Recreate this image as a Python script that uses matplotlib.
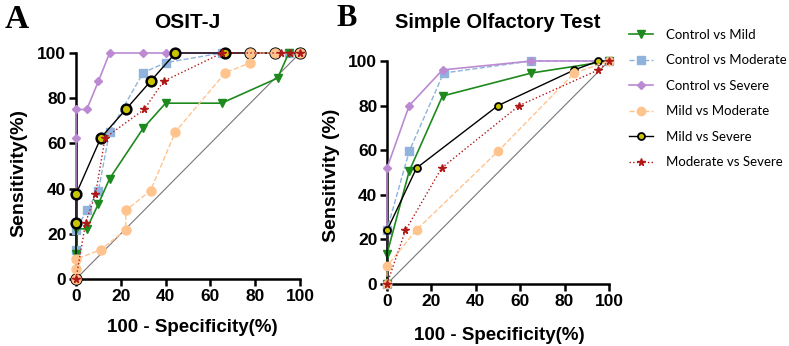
import matplotlib
matplotlib.use("Agg")
import matplotlib.pyplot as plt
from matplotlib.lines import Line2D

# ---- data: panel A (OSIT-J) ----
a_ctrl_mild_x = [0, 0, 0, 4.8, 10, 15, 30, 40, 65, 90, 95, 100]
a_ctrl_mild_y = [0, 11.1, 22.2, 22.2, 33.3, 44.4, 66.7, 77.8, 77.8, 88.9, 100, 100]
a_ctrl_mod_x = [0, 0, 0, 4.8, 10, 15, 30, 40, 65, 95, 100]
a_ctrl_mod_y = [0, 13.0, 21.7, 30.4, 39.1, 65.2, 91.3, 95.7, 100, 100, 100]
a_ctrl_sev_x = [0, 0, 0, 4.8, 10, 15, 30, 40, 100]
a_ctrl_sev_y = [0, 62.5, 75, 75, 87.5, 100, 100, 100, 100]
a_mild_mod_x = [0, 0, 0, 11.1, 22.2, 22.2, 33.3, 44.4, 66.7, 77.8, 77.8, 88.9, 100]
a_mild_mod_y = [0, 4.3, 8.7, 13.0, 21.7, 30.4, 39.1, 65.2, 91.3, 95.7, 100, 100, 100]
a_mild_sev_x = [0, 0, 0, 11.1, 22.2, 33.3, 44.4, 66.7, 77.8, 88.9, 100]
a_mild_sev_y = [0, 25, 37.5, 62.5, 75, 87.5, 100, 100, 100, 100, 100]
a_mod_sev_x = [0, 4.3, 8.7, 13.0, 30.4, 39.1, 65.2, 91.3, 95.7, 100]
a_mod_sev_y = [0, 25, 37.5, 62.5, 75, 87.5, 100, 100, 100, 100]

# ---- data: panel B (Simple Olfactory Test) ----
b_ctrl_mild_x = [0, 0, 10, 25, 65, 100]
b_ctrl_mild_y = [0, 13.5, 50.6, 84.3, 94.6, 100]
b_ctrl_mod_x = [0, 0, 10, 25.5, 65, 100]
b_ctrl_mod_y = [0, 24.3, 59.5, 94.6, 100, 100]
b_ctrl_sev_x = [0, 0, 10, 25, 65, 100]
b_ctrl_sev_y = [0, 52, 80, 96, 100, 100]
b_mild_mod_x = [0, 0, 13.3, 50, 84.4, 100]
b_mild_mod_y = [0, 8.1, 24.3, 59.5, 94.6, 100]
b_mild_sev_x = [0, 0, 13.3, 50, 84.4, 95.2, 100]
b_mild_sev_y = [0, 24, 52, 80, 96, 100, 100]
b_mod_sev_x = [0, 8.3, 24.6, 59.5, 95.2, 100]
b_mod_sev_y = [0, 24, 52, 80, 96, 100]

labels = ["Control vs Mild", "Control vs Moderate", "Control vs Severe",
          "Mild vs Moderate", "Mild vs Severe", "Moderate vs Severe"]
ticks = [0, 20, 40, 60, 80, 100]

GREEN = "#1e8a1e"
BLUE = "#8fb3dc"
PURPLE = "#bb8ad2"
ORANGE = "#ffc48e"
YELLOW = "#c9c400"
RED = "#b01818"

plt.rcParams["font.family"] = ["Liberation Sans", "DejaVu Sans"]
fig = plt.figure(figsize=(7.89, 3.46), dpi=100)
W, H = 789, 346


def px_axes(l, t, r, b):
    return fig.add_axes([l / W, 1 - b / H, (r - l) / W, (b - t) / H])


def style(ax):
    ax.set_xlim(0, 100)
    ax.set_ylim(0, 100)
    ax.set_xticks(ticks)
    ax.set_yticks(ticks)
    for s in ("top", "right"):
        ax.spines[s].set_visible(False)
    for s in ("left", "bottom"):
        ax.spines[s].set_linewidth(1.8)
    ax.tick_params(width=1.8, length=5, labelsize=12.5, pad=2)
    for t in ax.get_xticklabels() + ax.get_yticklabels():
        t.set_fontweight("bold")
    ax.plot([0, 100], [0, 100], color="#777777", lw=0.8, zorder=1, clip_on=False)


def series(ax, x, y, big):
    kw = dict(clip_on=False)
    ax.plot(x[0], y[0], "-", color=GREEN, lw=1.2, marker="v", ms=5.5, mfc=GREEN, mec=GREEN, zorder=4, **kw)
    ax.plot(x[1], y[1], "--", color=BLUE, lw=1.0, marker="s", ms=5.5, mfc=BLUE, mec=BLUE, zorder=3, **kw)
    ax.plot(x[2], y[2], "-", color=PURPLE, lw=1.2, marker="D", ms=4, mfc=PURPLE, mec=PURPLE, zorder=3, **kw)
    ax.plot(x[4], y[4], "-", color="black", lw=1.0, marker="o", ms=7 if big else 5,
            mfc=YELLOW, mec="black", mew=1.8 if big else 1.3, zorder=5, **kw)
    ax.plot(x[3], y[3], "--", color=ORANGE, lw=1.0, marker="o", ms=6.5 if big else 6, mfc=ORANGE,
            mec=ORANGE, zorder=6, **kw)
    ax.plot(x[5], y[5], ":", color=RED, lw=1.0, marker="*", ms=5.5, mfc=RED, mec=RED, zorder=6, **kw)


axA = px_axes(76, 53, 300, 279)
style(axA)
series(axA,
       [a_ctrl_mild_x, a_ctrl_mod_x, a_ctrl_sev_x, a_mild_mod_x, a_mild_sev_x, a_mod_sev_x],
       [a_ctrl_mild_y, a_ctrl_mod_y, a_ctrl_sev_y, a_mild_mod_y, a_mild_sev_y, a_mod_sev_y], True)

axB = px_axes(387, 61, 609, 284)
style(axB)
series(axB,
       [b_ctrl_mild_x, b_ctrl_mod_x, b_ctrl_sev_x, b_mild_mod_x, b_mild_sev_x, b_mod_sev_x],
       [b_ctrl_mild_y, b_ctrl_mod_y, b_ctrl_sev_y, b_mild_mod_y, b_mild_sev_y, b_mod_sev_y], False)

# titles, panel letters, axis labels
bold = dict(fontweight="bold", ha="center", va="center")
fig.text(187 / W, 1 - 23 / H, "OSIT-J", fontsize=15, **bold)
fig.text(498 / W, 1 - 22 / H, "Simple Olfactory Test", fontsize=14.5, **bold)
fig.text(17 / W, 1 - 20 / H, "A", fontsize=24, family="Liberation Serif", **bold)
fig.text(347 / W, 1 - 19 / H, "B", fontsize=22, family="Liberation Serif", **bold)
fig.text(19 / W, 1 - 173 / H, "Sensitivity(%)", fontsize=14, rotation=90, **bold)
fig.text(331 / W, 1 - 175 / H, "Sensitivity (%)", fontsize=14, rotation=90, **bold)
fig.text(192 / W, 1 - 328 / H, "100 - Specificity(%)", fontsize=13.5, **bold)
fig.text(499 / W, 1 - 335 / H, "100 - Specificity(%)", fontsize=13.5, **bold)

# legend
handles = [
    Line2D([], [], color=GREEN, ls="-", lw=1.2, marker="v", ms=5.5, mfc=GREEN, mec=GREEN),
    Line2D([], [], color=BLUE, ls="--", lw=1.0, marker="s", ms=5.5, mfc=BLUE, mec=BLUE),
    Line2D([], [], color=PURPLE, ls="-", lw=1.2, marker="D", ms=4, mfc=PURPLE, mec=PURPLE),
    Line2D([], [], color=ORANGE, ls="--", lw=1.0, marker="o", ms=6, mfc=ORANGE, mec=ORANGE),
    Line2D([], [], color="black", ls="-", lw=1.0, marker="o", ms=5, mfc=YELLOW, mec="black", mew=1.3),
    Line2D([], [], color=RED, ls=":", lw=1.0, marker="*", ms=5.5, mfc=RED, mec=RED),
]
fig.legend(handles, labels, loc="upper left", bbox_to_anchor=(629 / W, 1 - 29 / H),
           frameon=False, prop={"family": "Lato", "size": 9.5}, handlelength=1.85,
           handletextpad=0.95, labelspacing=1.02, borderaxespad=0, borderpad=0)

fig.savefig("out.png", dpi=100)
